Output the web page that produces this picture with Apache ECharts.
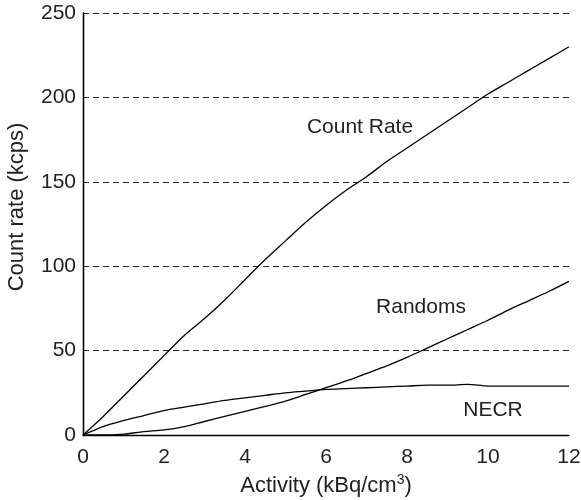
<!DOCTYPE html>
<html>
<head>
<meta charset="utf-8">
<script src="https://cdn.jsdelivr.net/npm/echarts@6/dist/echarts.min.js"></script>
<style>
    html, body { margin: 0; padding: 0; background: #fff; }
    #chart { width: 581px; height: 500px; }
</style>
</head>
<body>
<div id="chart"></div>
<script>
// activity (kBq/cm3)
var activity = [0, 0.5, 1, 1.5, 2, 2.5, 3, 3.5, 4, 4.5, 5, 5.5, 6, 6.5, 7, 7.5, 8, 8.5, 9, 9.5, 10, 10.5, 11, 11.5, 12];
// count rates (kcps)
var countRate = [0, 11, 23, 35, 47, 59, 69, 80, 92, 104, 115, 126, 136, 145, 153, 162, 170, 178, 186, 194, 202, 209, 216, 223, 230];
var randoms = [0, 0, 0.5, 2, 3, 5, 8, 11, 14, 17, 20, 24, 28, 32, 36.5, 41, 46, 51.5, 57, 62.5, 68, 74, 79.5, 85, 91];
var necr = [0, 5, 8.5, 11.5, 14.5, 16.5, 18.5, 20.5, 22, 23.5, 25, 26, 27, 27.5, 28, 28.5, 29, 29.5, 29.5, 30, 29, 29, 29, 29, 29];
var xTicks = [0, 2, 4, 6, 8, 10, 12];
var yTicks = [0, 50, 100, 150, 200, 250];

function pairs(xs, ys) {
    var out = [];
    for (var i = 0; i < xs.length; i++) {
        out.push([xs[i], ys[i]]);
    }
    return out;
}

function lineSeries(name, ys) {
    return {
        name: name,
        type: 'line',
        data: pairs(activity, ys),
        smooth: 0.3,
        symbol: 'none',
        lineStyle: { color: '#000', width: 1.3 },
        z: 5
    };
}

var font = 'Liberation Sans, Arial, Helvetica, sans-serif';

var myChart = echarts.init(document.getElementById('chart'));
var option = {
    animation: false,
    backgroundColor: '#fff',
    textStyle: { fontFamily: font },
    grid: { left: 83, right: 12, top: 13, bottom: 65, containLabel: false, outerBoundsMode: 'none' },
    xAxis: {
        type: 'value',
        min: xTicks[0],
        max: xTicks[xTicks.length - 1],
        interval: 2,
        name: '{n|Activity (kBq/cm}{s|3}{n|)}',
        nameLocation: 'middle',
        nameGap: 25,
        nameTextStyle: {
            rich: {
                n: { fontSize: 22, color: '#222', fontFamily: font },
                s: { fontSize: 14, color: '#222', fontFamily: font, verticalAlign: 'top', padding: [0, 0, 13, 0] }
            }
        },
        axisLine: { show: true, lineStyle: { color: '#000', width: 1.3 } },
        axisTick: { show: false },
        axisLabel: { color: '#222', fontSize: 21, fontFamily: font, margin: 12 },
        splitLine: { show: false }
    },
    yAxis: [{
        type: 'value',
        min: yTicks[0],
        max: yTicks[yTicks.length - 1],
        interval: 50,
        axisLine: { show: true, onZero: false, lineStyle: { color: '#000', width: 1.3 } },
        axisTick: { show: false },
        axisLabel: { color: '#222', fontSize: 21, fontFamily: font, margin: 7 },
        splitLine: { show: true, lineStyle: { color: '#222', width: 1, type: [6, 4] } }
    }, {
        type: 'value',
        position: 'right',
        min: yTicks[0],
        max: yTicks[yTicks.length - 1],
        interval: 50,
        axisLine: { show: true, lineStyle: { color: '#000', width: 1.3 } },
        axisTick: { show: false },
        axisLabel: { show: false },
        splitLine: { show: false }
    }],
    series: [
        lineSeries('Count Rate', countRate),
        lineSeries('Randoms', randoms),
        lineSeries('NECR', necr)
    ],
    graphic: [
        { type: 'text', x: 17, y: 207, rotation: Math.PI / 2,
          style: { text: 'Count rate (kcps)', fill: '#222', font: '22px ' + font, textAlign: 'center', textVerticalAlign: 'middle' } },
        { type: 'text', x: 360, y: 127,
          style: { text: 'Count Rate', fill: '#222', font: '21px ' + font, textAlign: 'center', textVerticalAlign: 'middle' } },
        { type: 'text', x: 421, y: 307,
          style: { text: 'Randoms', fill: '#222', font: '21px ' + font, textAlign: 'center', textVerticalAlign: 'middle' } },
        { type: 'text', x: 493, y: 410,
          style: { text: 'NECR', fill: '#222', font: '21px ' + font, textAlign: 'center', textVerticalAlign: 'middle' } }
    ]
};
myChart.setOption(option);
</script>
</body>
</html>
